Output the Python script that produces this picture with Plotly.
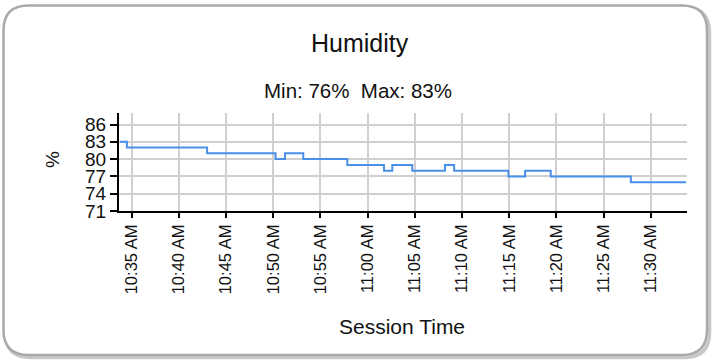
import plotly.graph_objects as go

# Humidity readings (step changes) during the session
times = [
    "2024-01-01 10:33:46", "2024-01-01 10:34:30", "2024-01-01 10:43:00",
    "2024-01-01 10:50:15", "2024-01-01 10:51:15", "2024-01-01 10:53:11",
    "2024-01-01 10:57:51", "2024-01-01 11:01:44", "2024-01-01 11:02:37",
    "2024-01-01 11:04:44", "2024-01-01 11:08:12", "2024-01-01 11:09:10",
    "2024-01-01 11:14:55", "2024-01-01 11:16:41", "2024-01-01 11:19:24",
    "2024-01-01 11:27:53", "2024-01-01 11:33:44",
]
humidity = [83, 82, 81, 80, 81, 80, 79, 78, 79, 78, 79, 78, 77, 78, 77, 76, 76]

y_ticks = [71, 74, 77, 80, 83, 86]
x_range = ["2024-01-01 10:33:40", "2024-01-01 11:33:50"]

W, H = 712, 360
L, R, T, B = 119, 25, 113, 149
PW, PH = W - L - R, H - T - B
FONT = "Liberation Sans, Arial, sans-serif"


def px(x):
    return (x - L) / PW


def py(y):
    return (H - B - y) / PH


def rounded_rect(x0, y0, x1, y1, r):
    # rounded rectangle path in paper coordinates from pixel corners
    pts = [
        f"M{px(x0 + r)},{py(y0)}",
        f"L{px(x1 - r)},{py(y0)}",
        f"Q{px(x1)},{py(y0)} {px(x1)},{py(y0 + r)}",
        f"L{px(x1)},{py(y1 - r)}",
        f"Q{px(x1)},{py(y1)} {px(x1 - r)},{py(y1)}",
        f"L{px(x0 + r)},{py(y1)}",
        f"Q{px(x0)},{py(y1)} {px(x0)},{py(y1 - r)}",
        f"L{px(x0)},{py(y0 + r)}",
        f"Q{px(x0)},{py(y0)} {px(x0 + r)},{py(y0)}",
        "Z",
    ]
    return " ".join(pts)


fig = go.Figure()
fig.add_trace(go.Scatter(
    x=times, y=humidity, mode="lines",
    line=dict(color="#4a8fe8", width=2, shape="hv"),
    hoverinfo="skip", showlegend=False,
))

shapes = [
    dict(type="path", xref="paper", yref="paper", layer="below",
         path=rounded_rect(5.5, 7.5, 709.5, 357.5, 25),
         line=dict(color="#c8c8c8", width=3.5)),
    dict(type="path", xref="paper", yref="paper", layer="below",
         path=rounded_rect(3.5, 5.5, 707, 355, 25),
         line=dict(color="#a9a9a9", width=2.5), fillcolor="white"),
]

annotations = [
    dict(text="Humidity", x=px(360), y=py(43), xref="paper", yref="paper",
         showarrow=False, xanchor="center", yanchor="middle",
         font=dict(family=FONT, size=25, color="#111")),
    dict(text="Min: 76%  Max: 83%", x=px(358), y=py(90), xref="paper", yref="paper",
         showarrow=False, xanchor="center", yanchor="middle",
         font=dict(family=FONT, size=20.5, color="#111")),
    dict(text="%", x=px(52), y=py(160), xref="paper", yref="paper",
         showarrow=False, xanchor="center", yanchor="middle", textangle=-90,
         font=dict(family=FONT, size=19, color="#111")),
    dict(text="Session Time", x=px(402), y=py(326), xref="paper", yref="paper",
         showarrow=False, xanchor="center", yanchor="middle",
         font=dict(family=FONT, size=21, color="#111")),
]

fig.update_layout(
    width=W, height=H,
    margin=dict(l=L, r=R, t=T, b=B, autoexpand=False),
    paper_bgcolor="white", plot_bgcolor="white",
    shapes=shapes, annotations=annotations,
    font=dict(family=FONT, color="#111"),
)

fig.update_xaxes(
    type="date", range=x_range,
    tick0="2024-01-01 10:35", dtick=300000, tickformat="%-I:%M %p",
    tickangle=-90, tickfont=dict(size=16.5, family=FONT, color="#111"),
    ticks="outside", ticklen=5, tickwidth=1.5, tickcolor="black",
    showline=True, linecolor="black", linewidth=2,
    showgrid=True, gridcolor="#d0d0d0", gridwidth=1.5,
    zeroline=False, automargin=False,
)
fig.update_yaxes(
    range=[71, 88], tickvals=y_ticks, ticktext=[str(v) for v in y_ticks],
    tickfont=dict(size=19, family=FONT, color="#111"),
    ticks="outside", ticklen=7, tickwidth=1.5, tickcolor="black",
    showline=True, linecolor="black", linewidth=2,
    showgrid=True, gridcolor="#d0d0d0", gridwidth=1.5,
    zeroline=False, automargin=False,
)

fig.write_html("out.html", config={"displayModeBar": False})
